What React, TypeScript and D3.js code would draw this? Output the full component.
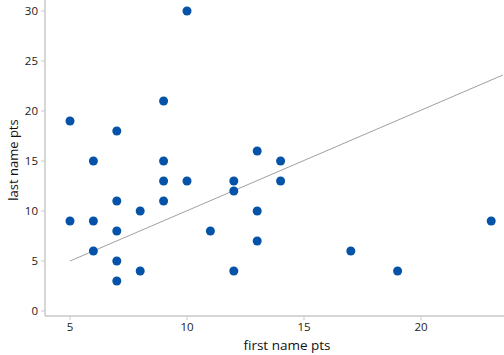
import React from "react";
import * as d3 from "d3";

const firstPts = [5, 5, 6, 6, 6, 7, 7, 7, 7, 7, 8, 8, 9, 9, 9, 9, 10, 10, 11, 12, 12, 12, 13, 13, 13, 14, 14, 17, 19, 23];
const lastPts = [19, 9, 15, 9, 6, 18, 11, 8, 5, 3, 10, 4, 21, 15, 13, 11, 30, 13, 8, 13, 12, 4, 16, 10, 7, 15, 13, 6, 4, 9];
const fitX = [5, 23.5];
const fitY = [5, 23.6];
const xTicks = [5, 10, 15, 20];
const yTicks = [0, 5, 10, 15, 20, 25, 30];

const W = 504, H = 355;
const left = 45, right = 504, top = 0, bottom = 316;

export default function App() {
  const x = d3.scaleLinear().domain([3.932, 23.547]).range([left, right]);
  const y = d3.scaleLinear().domain([-0.5, 31.1]).range([bottom, top]);
  const line = d3.line<number>().x((d, i) => x(fitX[i])).y((d, i) => y(fitY[i]));
  const font = "'Open Sans', 'Noto Sans', sans-serif";
  const axisCol = "#c8c8c8";
  return (
    <svg width={W} height={H} style={{ position: "absolute", left: 0, top: 0, fontFamily: font }}>
      <line x1={left} x2={left} y1={top} y2={bottom} stroke={axisCol} strokeWidth={1.5} />
      <line x1={left} x2={right} y1={bottom} y2={bottom} stroke={axisCol} strokeWidth={1.5} />
      {yTicks.map((t) => (
        <g key={"y" + t}>
          <line x1={left - 4} x2={left} y1={y(t)} y2={y(t)} stroke={axisCol} />
          <text x={left - 7} y={y(t)} dy="0.35em" textAnchor="end" fontSize={11.5} fill="#1a1a1a">{t}</text>
        </g>
      ))}
      {xTicks.map((t) => (
        <g key={"x" + t}>
          <line x1={x(t)} x2={x(t)} y1={bottom} y2={bottom + 4} stroke={axisCol} />
          <text x={x(t)} y={bottom + 15} textAnchor="middle" fontSize={11.5} fill="#1a1a1a">{t}</text>
        </g>
      ))}
      <text x={287} y={350} textAnchor="middle" fontSize={13.5} fill="#111">first name pts</text>
      <text transform={`translate(18,${160}) rotate(-90)`} textAnchor="middle" fontSize={13} fill="#111">last name pts</text>
      <path d={line(fitX) || ""} fill="none" stroke="#a0a0a0" strokeWidth={1} />
      {firstPts.map((v, i) => (
        <circle key={i} cx={x(v)} cy={y(lastPts[i])} r={4.5} fill="#0553a8" />
      ))}
    </svg>
  );
}
